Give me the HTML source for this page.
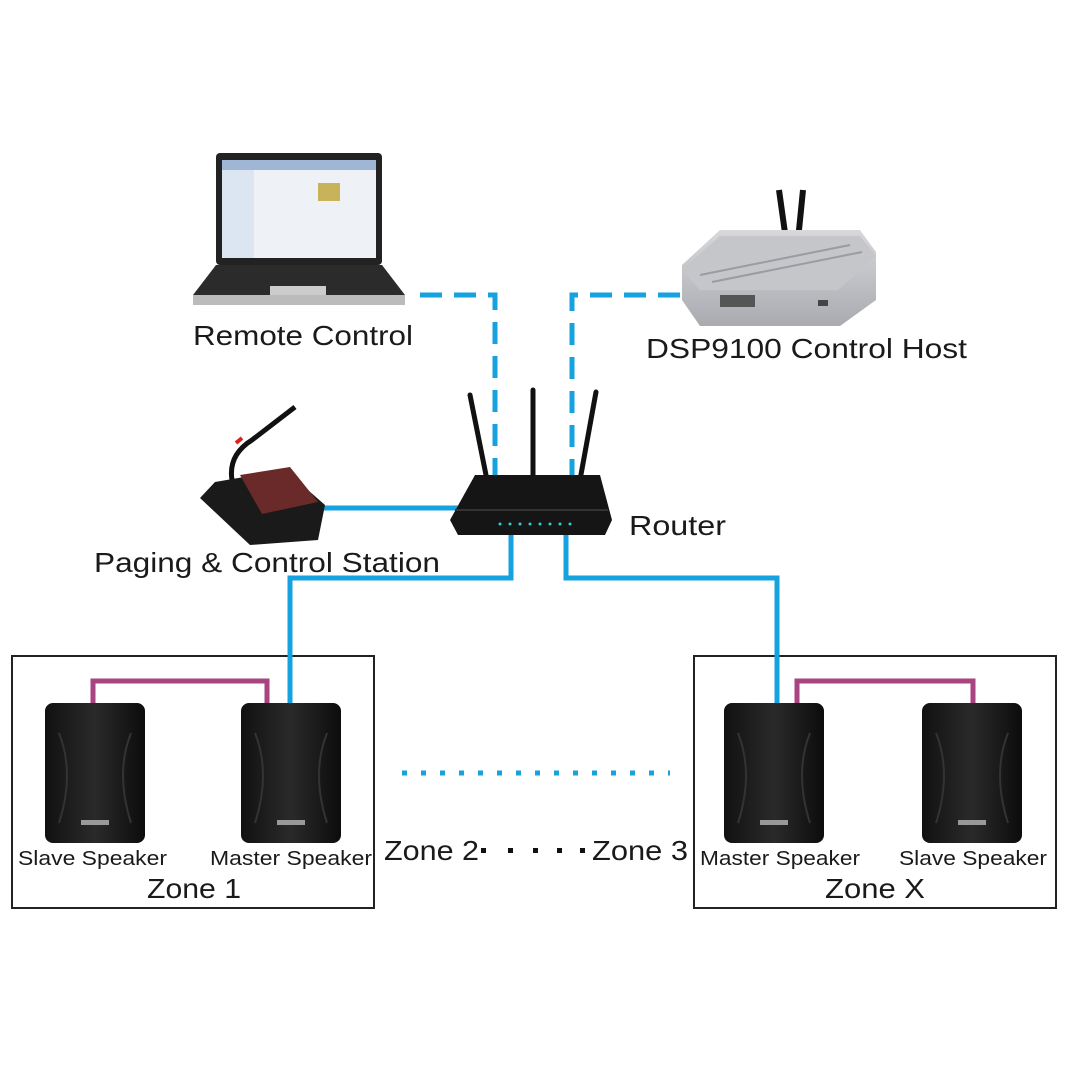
<!DOCTYPE html>
<html><head><meta charset="utf-8"><style>
body{margin:0;background:#fff}
svg{display:block}
text{font-family:"Liberation Sans",sans-serif;fill:#1a1a1a}
</style></head><body>
<svg width="1066" height="1066" viewBox="0 0 1066 1066" xmlns="http://www.w3.org/2000/svg">
<defs>
<linearGradient id="sp" x1="0" x2="1"><stop offset="0" stop-color="#111"/><stop offset=".5" stop-color="#2a2a2a"/><stop offset="1" stop-color="#0c0c0c"/></linearGradient>
<linearGradient id="hs" x1="0" y1="0" x2="0" y2="1"><stop offset="0" stop-color="#d8d8dc"/><stop offset="1" stop-color="#a9abb0"/></linearGradient>
<g id="spk">
<rect x="0" y="0" width="100" height="140" rx="8" fill="url(#sp)"/>
<path d="M14 30 Q30 70 14 120 M86 30 Q70 70 86 120" stroke="#333" stroke-width="2" fill="none"/>
<rect x="36" y="117" width="28" height="5" fill="#999"/>
</g>
</defs>
<rect x="12" y="656" width="362" height="252" fill="none" stroke="#222" stroke-width="2"/>
<rect x="694" y="656" width="362" height="252" fill="none" stroke="#222" stroke-width="2"/>
<g stroke="#16a2df" stroke-width="5" fill="none">
<path d="M420 295 H495 V480" stroke-dasharray="22 12"/>
<path d="M680 295 H572 V480" stroke-dasharray="22 12"/>
<path d="M320 508 H458"/>
<path d="M511 535 V578 H290 V705"/>
<path d="M566 535 V578 H777 V705"/>
<path d="M402 773 H670" stroke-dasharray="5 14"/>
</g>
<g stroke="#a8447f" stroke-width="5" fill="none">
<path d="M93 705 V681 H267 V705"/>
<path d="M797 705 V681 H973 V705"/>
</g>
<use href="#spk" x="45" y="703"/>
<use href="#spk" x="241" y="703"/>
<use href="#spk" x="724" y="703"/>
<use href="#spk" x="922" y="703"/>
<rect x="216" y="153" width="166" height="112" rx="4" fill="#222"/>
<rect x="222" y="160" width="154" height="98" fill="#eef2f7"/>
<rect x="222" y="160" width="154" height="10" fill="#9fb7d4"/>
<rect x="222" y="170" width="32" height="88" fill="#dbe6f2"/>
<rect x="318" y="183" width="22" height="18" fill="#c8b25a"/>
<path d="M216 265 H382 L405 295 V305 H193 V295 Z" fill="#2b2b2b"/>
<path d="M193 295 H405 V305 H193Z" fill="#bbb"/>
<rect x="270" y="286" width="56" height="9" fill="#ccc"/>
<line x1="786" y1="240" x2="779" y2="190" stroke="#111" stroke-width="6"/>
<line x1="798" y1="240" x2="803" y2="190" stroke="#111" stroke-width="6"/>
<path d="M720 230 H860 L876 252 V300 L840 326 H700 L682 300 V265 Z" fill="url(#hs)"/>
<path d="M682 270 L720 236 H860 L876 256 L838 290 H700 Z" fill="#c4c6ca"/>
<g stroke="#9a9ca1" stroke-width="2"><line x1="700" y1="275" x2="850" y2="245"/><line x1="712" y1="282" x2="862" y2="252"/></g>
<rect x="720" y="295" width="35" height="12" fill="#555"/>
<rect x="818" y="300" width="10" height="6" fill="#444"/>
<g stroke="#111" stroke-width="5" stroke-linecap="round">
<line x1="470" y1="395" x2="487" y2="480"/>
<line x1="533" y1="390" x2="533" y2="478"/>
<line x1="596" y1="392" x2="580" y2="480"/>
</g>
<path d="M475 475 H600 L612 520 L605 535 H458 L450 520 Z" fill="#151515"/>
<line x1="455" y1="510" x2="608" y2="510" stroke="#333" stroke-width="2"/>
<g fill="#3cc">
<circle cx="500" cy="524" r="1.5"/><circle cx="510" cy="524" r="1.5"/><circle cx="520" cy="524" r="1.5"/><circle cx="530" cy="524" r="1.5"/><circle cx="540" cy="524" r="1.5"/><circle cx="550" cy="524" r="1.5"/><circle cx="560" cy="524" r="1.5"/><circle cx="570" cy="524" r="1.5"/>
</g>
<path d="M232 480 Q228 455 252 440 L295 407" stroke="#111" stroke-width="5" fill="none"/>
<line x1="236" y1="443" x2="242" y2="438" stroke="#d22" stroke-width="4"/>
<path d="M215 482 L285 470 L325 505 L318 540 L250 545 L200 498 Z" fill="#1a1a1a"/>
<path d="M240 475 L290 467 L318 502 L262 514 Z" fill="#6a2a2a"/>
<g lengthAdjust="spacingAndGlyphs">
<text x="193" y="345" font-size="28" textLength="220" lengthAdjust="spacingAndGlyphs">Remote Control</text>
<text x="646" y="358" font-size="28" textLength="321" lengthAdjust="spacingAndGlyphs">DSP9100 Control Host</text>
<text x="629" y="535" font-size="28" textLength="97" lengthAdjust="spacingAndGlyphs">Router</text>
<text x="94" y="572" font-size="28" textLength="346" lengthAdjust="spacingAndGlyphs">Paging &amp; Control Station</text>
<text x="18" y="865" font-size="20" textLength="149" lengthAdjust="spacingAndGlyphs">Slave Speaker</text>
<text x="210" y="865" font-size="20" textLength="162" lengthAdjust="spacingAndGlyphs">Master Speaker</text>
<text x="147" y="898" font-size="28" textLength="94" lengthAdjust="spacingAndGlyphs">Zone 1</text>
<text x="384" y="860" font-size="28" textLength="95" lengthAdjust="spacingAndGlyphs">Zone 2</text>
<text x="592" y="860" font-size="28" textLength="96" lengthAdjust="spacingAndGlyphs">Zone 3</text>
<text x="700" y="865" font-size="20" textLength="160" lengthAdjust="spacingAndGlyphs">Master Speaker</text>
<text x="899" y="865" font-size="20" textLength="148" lengthAdjust="spacingAndGlyphs">Slave Speaker</text>
<text x="825" y="898" font-size="28" textLength="100" lengthAdjust="spacingAndGlyphs">Zone X</text>
</g>
<g fill="#111">
<rect x="481" y="848" width="5" height="5"/><rect x="508" y="848" width="5" height="5"/><rect x="533" y="848" width="5" height="5"/><rect x="557" y="848" width="5" height="5"/><rect x="580" y="848" width="5" height="5"/>
</g>
</svg>
</body></html>
